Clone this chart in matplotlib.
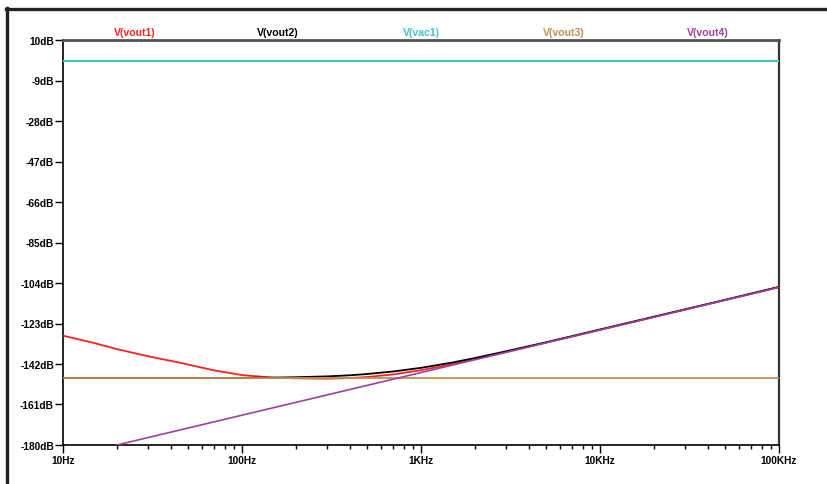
import numpy as np
import matplotlib
matplotlib.use("Agg")
import matplotlib.pyplot as plt
from matplotlib.lines import Line2D
from matplotlib.ticker import FixedLocator, LogLocator, NullFormatter

plt.rcParams['font.family'] = ['Liberation Sans', 'DejaVu Sans']

# Frequency sweep results (dB)
freq_flat = [10, 100000]
vac1_db = [0.0, 0.0]
vout3_db = [-148.5, -148.5]

freq_v4 = [20, 100000]
vout4_db = [-180.0, -106.0]

freq_v2 = [10, 50, 100, 150, 200, 300, 400, 500, 700, 1000, 1500, 2000, 3000,
           5000, 7000, 10000, 20000, 50000, 100000]
vout2_db = [-148.6, -148.6, -148.5, -148.4, -148.2, -147.8, -147.3, -146.7,
            -145.5, -143.8, -141.3, -139.2, -136.0, -131.8, -128.9, -125.8,
            -119.8, -111.9, -105.8]

freq_v1 = [10, 15, 20, 30, 45, 70, 100, 150, 200, 300, 400, 500, 700, 1000,
           1500, 2000, 3000, 5000, 10000, 20000, 50000, 100000]
vout1_db = [-128.7, -132.2, -135.0, -138.4, -141.4, -145.0, -147.2, -148.4,
            -148.7, -148.9, -148.6, -148.1, -146.9, -144.9, -142.1, -139.8,
            -136.4, -132.0, -126.0, -120.0, -112.0, -106.0]

trace_names = ['V(vout1)', 'V(vout2)', 'V(vac1)', 'V(vout3)', 'V(vout4)']
trace_colors = ['#ff2020', '#000000', '#44c4c4', '#c09050', '#a040a0']

y_ticks = [10, -9, -28, -47, -66, -85, -104, -123, -142, -161, -180]
x_ticks = [10, 100, 1000, 10000, 100000]
x_labels = ['10Hz', '100Hz', '1KHz', '10KHz', '100KHz']

W, H = 828, 485
fig = plt.figure(figsize=(W / 100, H / 100), dpi=100)
ax = fig.add_axes([63 / W, 1 - 446 / H, (779 - 63) / W, (446 - 41) / H])

ax.plot(freq_v1, vout1_db, color=trace_colors[0], lw=1.3, zorder=3)
ax.plot(freq_v2, vout2_db, color=trace_colors[1], lw=1.3, zorder=4)
ax.plot(freq_flat, vac1_db, color=trace_colors[2], lw=1.6, zorder=5)
ax.plot(freq_flat, vout3_db, color=trace_colors[3], lw=1.3, zorder=5)
ax.plot(freq_v4, vout4_db, color=trace_colors[4], lw=1.2, zorder=6)

ax.set_xscale('log')
ax.set_xlim(10, 100000)
ax.set_ylim(-180, 10)

ax.yaxis.set_major_locator(FixedLocator(y_ticks))
ax.set_yticklabels([f'{v}dB' for v in y_ticks])
ax.xaxis.set_major_locator(FixedLocator(x_ticks))
ax.set_xticklabels(x_labels)
ax.xaxis.set_minor_locator(LogLocator(base=10, subs=np.arange(2, 10)))
ax.xaxis.set_minor_formatter(NullFormatter())

ax.tick_params(axis='y', which='major', direction='out', length=6,
               width=1, labelsize=7.3, pad=0.5, colors='black')
ax.tick_params(axis='x', which='major', direction='out', length=6,
               width=1, labelsize=7.3, pad=1, colors='black')
ax.tick_params(axis='x', which='minor', direction='out', length=3, width=1)
for lab in ax.get_xticklabels() + ax.get_yticklabels():
    lab.set_fontweight('bold')

ax.spines['left'].set_color('black')
ax.spines['bottom'].set_color('black')
ax.spines['left'].set_linewidth(1.2)
ax.spines['bottom'].set_linewidth(1.2)
ax.spines['top'].set_color('#555555')
ax.spines['top'].set_linewidth(2)
ax.spines['right'].set_color('#333333')
ax.spines['right'].set_linewidth(1.6)

for i, (name, col) in enumerate(zip(trace_names, trace_colors)):
    ax.text((i + 0.5) / 5, 1.0 + 3 / 405, name, transform=ax.transAxes,
            ha='center', va='bottom', color=col, fontsize=7.6,
            fontweight='bold')

# window border
fig.add_artist(Line2D([7 / W, 7 / W], [0, 1 - 9 / H], color='#222222',
                      lw=2.4, transform=fig.transFigure))
fig.add_artist(Line2D([6 / W, 1], [1 - 10 / H, 1 - 10 / H], color='#222222',
                      lw=2.4, transform=fig.transFigure))

fig.savefig('out.png', dpi=100)
